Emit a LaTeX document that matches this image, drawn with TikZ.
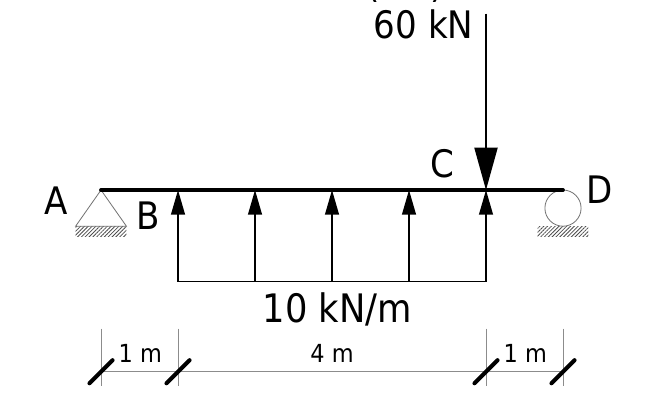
\documentclass[tikz,border=0pt]{standalone}
\usepackage{fontspec}
\setmainfont{DejaVu Sans Condensed}
\usetikzlibrary{arrows.meta,patterns.meta,calc}

\tikzset{
  beam/.style={line width=1.4pt},
  load/.style={line width=0.6pt},
  dim/.style={line width=0.3pt, black!45},
  tick/.style={line width=1.5pt, line cap=round},
  support/.style={line width=0.3pt, black!55, fill=white},
  ground/.style={pattern={Lines[angle=45,distance=1pt,line width=0.3pt]}, pattern color=black!70, draw=none},
  bigtip/.style={-{Triangle[length=0.55cm,width=0.3cm]}},
  smalltip/.style={-{Triangle[length=0.32cm,width=0.18cm]}},
  lbl/.style={inner sep=0pt, font=\fontsize{14}{16}\selectfont},
  dimlbl/.style={inner sep=0pt, font=\fontsize{9.2}{11}\selectfont}
}

\begin{document}
\begin{tikzpicture}
   \useasboundingbox (-1.312,-2.909) rectangle (7.195,2.468);

   % points on the beam
   \coordinate (A) at (0,0);
   \coordinate (B) at (1,0);
   \coordinate (C) at (5,0);
   \coordinate (D) at (6,0);
   \coordinate (L1) at (2,0);
   \coordinate (L2) at (3,0);
   \coordinate (L3) at (4,0);
   \coordinate (BL) at (1,-1.19);
   \coordinate (L1L) at (2,-1.19);
   \coordinate (L2L) at (3,-1.19);
   \coordinate (L3L) at (4,-1.19);
   \coordinate (CL) at (5,-1.19);
   \coordinate (P) at (5,2.29);

   % supports
   \fill[ground] (-0.33,-0.47) rectangle (0.33,-0.61);
   \draw[support] (A) -- (-0.33,-0.47) -- (0.33,-0.47) -- cycle;
   \fill[ground] (5.67,-0.47) rectangle (6.33,-0.61);
   \draw[support] (6,-0.235) circle (0.235);

   % distributed load
   \draw[load] (BL) -- (CL);
   \draw[load, smalltip] (BL) -- (B);
   \draw[load, smalltip] (L1L) -- (L1);
   \draw[load, smalltip] (L2L) -- (L2);
   \draw[load, smalltip] (L3L) -- (L3);
   \draw[load, smalltip] (CL) -- (C);

   % point load
   \draw[load, bigtip] (P) -- (C);

   \draw[beam, line cap=round] (A) -- (D);

   % labels
   \node[lbl] (NA) at (-0.578,-0.143) {A};
   \node[lbl] (NB) at (0.61,-0.33) {B};
   \node[lbl] (NC) at (4.435,0.338) {C};
   \node[lbl] (ND) at (6.47,0) {D};
   \node[lbl] (NP) at (4.19,2.156) {60 kN};
   \node[lbl, anchor=base] (NT) at (3.95,2.5) {(\hspace{18.5pt})};
   \node[lbl, anchor=base, font=\fontsize{14.5}{16}\selectfont] (NQ) at (3.07,-1.714) {10 kN/m};

   % dimensions
   \coordinate (D0) at (0,-2.36);
   \coordinate (D1) at (1,-2.36);
   \coordinate (D2) at (5,-2.36);
   \coordinate (D3) at (6,-2.36);
   \draw[dim] (D0) -- (D3);
   \foreach \p in {D0,D1,D2,D3}{
     \draw[dim] ($(\p)+(0,0.56)$) -- ($(\p)+(0,-0.18)$);
     \draw[tick] ($(\p)+(-0.15,-0.15)$) -- ($(\p)+(0.15,0.15)$);
   }
   \node[dimlbl] (N1) at (0.51,-2.117) {1 m};
   \node[dimlbl] (N2) at (3,-2.117) {4 m};
   \node[dimlbl] (N3) at (5.51,-2.117) {1 m};
\end{tikzpicture}
\end{document}
